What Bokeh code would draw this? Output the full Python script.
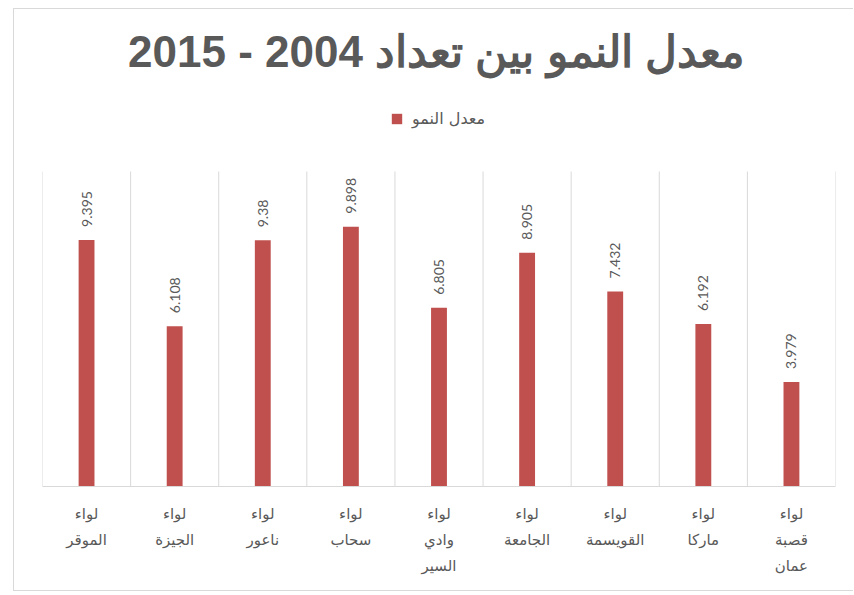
import math
from bokeh.plotting import figure
from bokeh.models import ColumnDataSource, FactorRange, Range1d, Legend, LegendItem, Label
from bokeh.transform import dodge
from bokeh.embed import file_html
from bokeh.resources import INLINE

# ---- data ----
categories = [
    "لواء\nالموقر",
    "لواء\nالجيزة",
    "لواء\nناعور",
    "لواء\nسحاب",
    "لواء\nوادي\nالسير",
    "لواء\nالجامعة",
    "لواء\nالقويسمة",
    "لواء\nماركا",
    "لواء\nقصبة\nعمان",
]
growth = [9.395, 6.108, 9.38, 9.898, 6.805, 8.905, 7.432, 6.192, 3.979]
series_name = "معدل النمو"
title_text = "معدل النمو بين تعداد 2004 - 2015"
value_axis_max = 12

BAR = "#c0504d"
GREY = "#595959"
GRID = "#d9d9d9"

src = ColumnDataSource(dict(cat=categories, val=growth, lbl=[str(v) for v in growth]))

# the plot frame runs to the top of the canvas so that the title and legend
# (annotations) are drawn inside it; the value scale is 26.25 px per unit
p = figure(
    width=840, height=583, title=None,
    x_range=FactorRange(factors=categories, range_padding=0),
    y_range=Range1d(0, 477 / 26.25),
    output_backend="svg", toolbar_location=None,
    min_border_left=28, min_border_right=19, min_border_top=0, min_border_bottom=106,
)
p.margin = (8, 0, 0, 13)
p.styles = {"border-left": "1px solid #d9d9d9", "border-top": "1px solid #d9d9d9",
            "border-bottom": "1px solid #d9d9d9"}
p.outline_line_color = None
p.background_fill_color = "white"
p.border_fill_color = "white"

# category separators (only over the value area 0..12)
sep_src = ColumnDataSource(dict(cat=categories, y0=[0] * len(categories),
                                y1=[value_axis_max] * len(categories)))
end_src = ColumnDataSource(dict(cat=categories[-1:], y0=[0], y1=[value_axis_max]))
p.segment(x0=dodge("cat", -0.5, range=p.x_range), x1=dodge("cat", -0.5, range=p.x_range),
          y0="y0", y1="y1", source=sep_src, line_color=GRID, line_width=1)
p.segment(x0=dodge("cat", 0.5, range=p.x_range), x1=dodge("cat", 0.5, range=p.x_range),
          y0="y0", y1="y1", source=end_src, line_color=GRID, line_width=1)

r = p.vbar(x="cat", top="val", width=0.18, source=src, color=BAR, line_color=None)

p.text(x="cat", y="val", text="lbl", source=src, angle=math.pi / 2,
       text_align="left", text_baseline="middle", y_offset=-13,
       text_color=GREY, text_font_size="14px", text_font={"value": "Lato"})

# title
p.add_layout(Label(x=394, y=435, x_units="screen", y_units="screen",
                   text=title_text, text_align="center", text_baseline="middle",
                   text_font="Liberation Sans", text_font_size="44px",
                   text_font_style="bold", text_color=GREY))

# legend
legend = Legend(items=[LegendItem(label=series_name, renderers=[r])],
                location=(348, 358), orientation="horizontal",
                glyph_width=13, glyph_height=13, label_text_font_size="16px",
                label_text_color=GREY, label_text_font="DejaVu Sans",
                border_line_color=None, background_fill_alpha=0,
                padding=0, margin=0, spacing=5, label_standoff=9)
p.add_layout(legend)

# axes / grid
p.yaxis.visible = False
p.ygrid.grid_line_color = None
p.xgrid.grid_line_color = None
p.xaxis.axis_line_color = GRID
p.xaxis.major_tick_line_color = None
p.xaxis.minor_tick_line_color = None
p.xaxis.major_label_text_color = GREY
p.xaxis.major_label_text_font = "DejaVu Sans"
p.xaxis.major_label_text_font_size = "15px"
p.xaxis.major_label_text_line_height = 1.45
p.xaxis.major_label_standoff = 12

open("out.html", "w").write(file_html(p, INLINE))
